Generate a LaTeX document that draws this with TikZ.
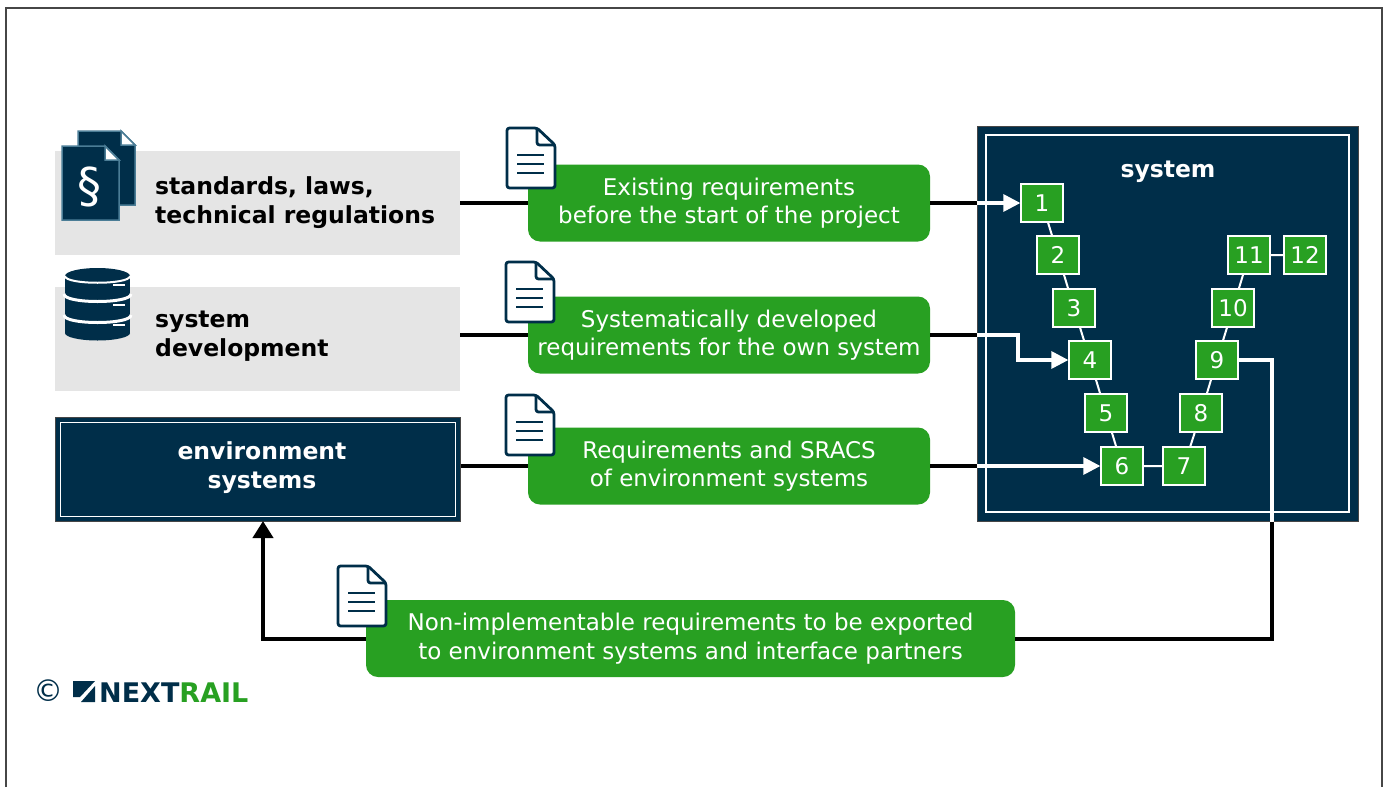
\documentclass[tikz,border=0pt]{standalone}
\usepackage{fontspec}
\setmainfont{DejaVu Sans}
\usetikzlibrary{arrows.meta}
\definecolor{navy}{RGB}{0,46,73}
\definecolor{grn}{RGB}{40,160,34}
\definecolor{lgray}{RGB}{229,229,229}
\definecolor{iconedge}{RGB}{75,125,150}
\definecolor{frame}{RGB}{70,70,70}
\newcommand\dgfont{\fontsize{23}{28.5}\selectfont}
\newcommand\dgbold{\fontsize{23.5}{29}\selectfont\bfseries}
\newcommand\numfont{\fontsize{23}{24}\selectfont}
\tikzset{
  docicon/.pic={
    \filldraw[fill=white, draw=navy, line width=2.8pt, rounded corners=2.5pt, line join=round]
      (0,0) -- (30,0) -- (48,17) -- (48,60) -- (0,60) -- cycle;
    \draw[navy, line width=2.8pt, rounded corners=2.5pt, line join=round] (30,0) -- (30,17) -- (48,17);
    \draw[navy, line width=2.5pt] (10,27) -- (37,27) (10,36) -- (37,36) (10,45) -- (37,45);
  }
}
\begin{document}
\begin{tikzpicture}[x=1pt,y=-1pt,
  graybox/.style={fill=lgray, draw=none, minimum width=405pt, minimum height=104pt, inner sep=0pt},
  navybox/.style={fill=navy, draw=frame, line width=1pt, inner sep=0pt},
  greenbox/.style={fill=grn, draw=none, rounded corners=12pt, minimum width=402pt, minimum height=77pt,
    text=white, align=center, font=\dgfont, inner sep=0pt},
  boldlbl/.style={font=\dgbold, align=left, inner sep=0pt},
  vnode/.style={fill=grn, draw=white, line width=1.3pt, minimum width=42pt, minimum height=38pt,
    inner sep=0pt, text=white, font=\numfont},
  bline/.style={black, line width=4pt},
  wline/.style={white, line width=3.2pt},
  vlink/.style={white, line width=2pt},
  barrow/.style={bline, -{Triangle[length=17pt,width=20pt]}},
  warrow/.style={wline, -{Triangle[length=17pt,width=17pt]}},
]
\useasboundingbox (0,0) rectangle (1386,787);
\draw[frame, line width=2pt] (6,787) -- (6,8) -- (1382,8) -- (1382,787);

% left boxes
\node[graybox] (std) at (257.5,203) {};
\node[graybox] (dev) at (257.5,338.5) {};
\node[navybox, minimum width=405pt, minimum height=104pt] (env) at (257.5,469) {};
\draw[white, line width=1pt] (60,422) rectangle (455,516);
\node[boldlbl, anchor=west] (stdtxt) at (155,203) {standards, laws,\\technical regulations};
\node[boldlbl, anchor=west] (devtxt) at (155,336) {system\\development};
\node[boldlbl, align=center, text=white] (envtxt) at (262,468) {environment\\systems};

% standards icon
\filldraw[fill=navy, draw=iconedge, line width=1.5pt] (78,131) -- (121,131) -- (135,145) -- (135,205) -- (78,205) -- cycle;
\filldraw[fill=white, draw=iconedge, line width=1.5pt] (121,131) -- (121,145) -- (135,145) -- cycle;
\filldraw[fill=navy, draw=iconedge, line width=1.5pt] (62,146) -- (105,146) -- (119,160) -- (119,220) -- (62,220) -- cycle;
\filldraw[fill=white, draw=iconedge, line width=1.5pt] (105,146) -- (105,160) -- (119,160) -- cycle;
\node[text=white, font=\fontsize{48}{48}\selectfont, inner sep=0pt] (para) at (89,187) {§};

% database icon
\fill[navy] (65,276) rectangle (130,333);
\fill[navy] (97.5,276) ellipse[x radius=32.5, y radius=8];
\fill[navy] (97.5,333) ellipse[x radius=32.5, y radius=7.5];
\draw[white, line width=2pt] (65,276) .. controls (65,285) and (130,285) .. (130,276);
\draw[white, line width=3pt] (64,294) .. controls (64,304) and (131,304) .. (131,294);
\draw[white, line width=3pt] (64,315) .. controls (64,325) and (131,325) .. (131,315);
\draw[white, line width=2pt] (113,285) -- (125,285) (113,305) -- (125,305) (113,325) -- (125,325);

% green boxes
\node[greenbox] (g1) at (729,203) {Existing requirements\\before the start of the project};
\node[greenbox] (g2) at (729,335) {Systematically developed\\requirements for the own system};
\node[greenbox] (g3) at (729,466) {Requirements and SRACS\\of environment systems};
\node[greenbox, minimum width=649pt] (g4) at (690.5,638.5) {Non-implementable requirements to be exported\\to environment systems and interface partners};

\pic at (507,128) {docicon};
\pic at (506,262) {docicon};
\pic at (506,395) {docicon};
\pic at (338,566) {docicon};

% system box
\node[navybox, minimum width=381pt, minimum height=395pt] (sys) at (1167.5,323.5) {};
\draw[white, line width=1.3pt] (986,135) rectangle (1349,512);
\node[font=\dgbold, text=white, inner sep=0pt] (systxt) at (1168,172) {system};

\node[vnode] (n1) at (1042,203) {1};
\node[vnode] (n2) at (1058,255) {2};
\node[vnode] (n3) at (1074,308) {3};
\node[vnode] (n4) at (1090,360) {4};
\node[vnode] (n5) at (1106,413) {5};
\node[vnode] (n6) at (1122,466) {6};
\node[vnode] (n7) at (1184,466) {7};
\node[vnode] (n8) at (1201,413) {8};
\node[vnode] (n9) at (1217,360) {9};
\node[vnode] (n10) at (1233,308) {10};
\node[vnode] (n11) at (1249,255) {11};
\node[vnode] (n12) at (1305,255) {12};
\draw[vlink] (n1) -- (n2) (n2) -- (n3) (n3) -- (n4) (n4) -- (n5) (n5) -- (n6)
  (n6) -- (n7) (n7) -- (n8) (n8) -- (n9) (n9) -- (n10) (n10) -- (n11) (n11) -- (n12);

% connectors
\coordinate (e1) at (sys.west |- g1.east);
\coordinate (e2) at (sys.west |- g2.east);
\coordinate (e3) at (sys.west |- g3.east);
\coordinate (k2) at (1018,335);
\coordinate (k9) at (1272,360);
\coordinate (ea) at (263,521);
\draw[bline] (g1.west -| std.east) -- (g1.west);
\draw[bline] (g2.west -| dev.east) -- (g2.west);
\draw[bline] (g3.west -| env.east) -- (g3.west);
\draw[bline] (g1.east) -- (e1);
\draw[bline] (g2.east) -- (e2);
\draw[bline] (g3.east) -- (e3);
\draw[warrow] (e1) -- (n1.west);
\draw[warrow] (e2) -- (k2) |- (n4.west);
\draw[warrow] (e3) -- (n6.west);
\draw[wline] (n9.east) -- (k9) -- (k9 |- sys.south);
\draw[bline] (k9 |- sys.south) -- (k9 |- g4.east) -- (g4.east);
\draw[barrow] (g4.west) -- (g4.west -| ea) -- (ea);

% logo
\node[text=navy, font=\fontsize{30}{30}\selectfont, inner sep=0pt] (copy) at (48,691) {©};
\fill[navy] (73,681) -- (95,681) -- (80,697) -- (73,697) -- cycle;
\fill[navy] (95,686) -- (95,702) -- (81,702) -- cycle;
\node[anchor=base west, inner sep=0pt, font=\fontsize{27}{27}\selectfont\bfseries] (logo) at (99,702) {\textcolor{navy}{NEXT}\textcolor{grn}{RAIL}};
\end{tikzpicture}
\end{document}
